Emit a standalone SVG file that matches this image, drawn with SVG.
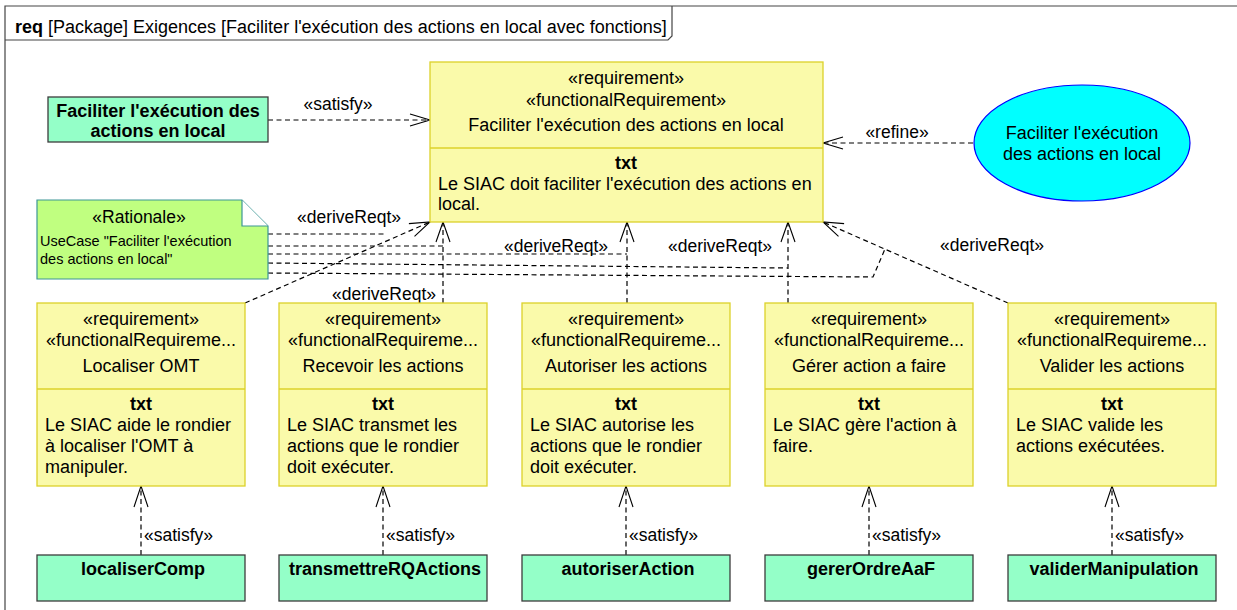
<svg xmlns="http://www.w3.org/2000/svg" width="1237" height="610" viewBox="0 0 1237 610">
<style>
text{font-family:"Liberation Sans",Arial,sans-serif;fill:#000}
.t{font-size:18px}
.l{font-size:17.5px}
.c{text-anchor:middle}
.b{font-weight:bold}
.req{fill:#FAFAAA;stroke:#DCD22A;stroke-width:1.3}
.blk{fill:#94FFC8;stroke:#3C3C3C;stroke-width:1.3}
.dash{fill:none;stroke:#000;stroke-width:1.2;stroke-dasharray:5,3.5}
.head{fill:none;stroke:#000;stroke-width:1.1}
</style>
<rect width="1237" height="610" fill="#fff"/>
<g id="frame">
<path d="M5,610 V6 H1237" fill="none" stroke="#444" stroke-width="1.2"/>
<path d="M5,40 H668 L672,36 V6" fill="none" stroke="#444" stroke-width="1.2"/>
<text x="15" y="33" style="font-size:18px"><tspan font-weight="bold">req</tspan> [Package] Exigences [Faciliter l'exécution des actions en local avec fonctions]</text>
</g>
<g id="connectors">
<path class="dash" d="M268,120 H429"/>
<path class="head" d="M410,114 L430,120 L410,126"/>
<text class="l c" x="338" y="110">«satisfy»</text>
<path class="dash" d="M973,143 H824"/>
<path class="head" d="M843,137 L823,143 L843,149"/>
<text class="l c" x="897" y="138">«refine»</text>
<path class="dash" d="M245,303 L430,222"/>
<path class="head" d="M414.5,236.4 L430,222 L408.9,223.6"/>
<text class="l c" x="349" y="223">«deriveReqt»</text>
<path class="dash" d="M443,303 V223"/>
<path class="head" d="M436,242 L443,222 L450,242"/>
<text class="l c" x="384" y="300">«deriveReqt»</text>
<path class="dash" d="M627,303 V223"/>
<path class="head" d="M620,242 L627,222 L634,242"/>
<text class="l c" x="556" y="252">«deriveReqt»</text>
<path class="dash" d="M788,303 V223"/>
<path class="head" d="M781,242 L788,222 L795,242"/>
<text class="l c" x="720" y="252">«deriveReqt»</text>
<path class="dash" d="M1008,303 L823,222"/>
<path class="head" d="M838.5,236.4 L823,222 L844.1,223.6"/>
<text class="l c" x="992" y="251">«deriveReqt»</text>
<path class="dash" d="M268,234 H386"/>
<path class="dash" d="M268,246 H443"/>
<path class="dash" d="M268,254 H627"/>
<path class="dash" d="M268,263 L788,268"/>
<path class="dash" d="M268,273 L873,277 L885,249"/>
<path class="dash" d="M141,555 V487"/>
<path class="head" d="M134,507 L141,486 L148,507"/>
<text class="l" x="144" y="541">«satisfy»</text>
<path class="dash" d="M383,555 V487"/>
<path class="head" d="M376,507 L383,486 L390,507"/>
<text class="l" x="386" y="541">«satisfy»</text>
<path class="dash" d="M626,555 V487"/>
<path class="head" d="M619,507 L626,486 L633,507"/>
<text class="l" x="629" y="541">«satisfy»</text>
<path class="dash" d="M869,555 V487"/>
<path class="head" d="M862,507 L869,486 L876,507"/>
<text class="l" x="872" y="541">«satisfy»</text>
<path class="dash" d="M1112,555 V487"/>
<path class="head" d="M1105,507 L1112,486 L1119,507"/>
<text class="l" x="1115" y="541">«satisfy»</text>
</g>
<g id="main-req">
<rect class="req" x="430" y="62" width="393" height="160"/>
<line x1="430" y1="148" x2="823" y2="148" stroke="#DCD22A" stroke-width="1.3"/>
<text class="t c" x="626" y="84">«requirement»</text>
<text class="t c" x="626" y="106">«functionalRequirement»</text>
<text class="t c" x="626" y="131">Faciliter l'exécution des actions en local</text>
<text class="t c b" x="626" y="169">txt</text>
<text class="t" x="438" y="190">Le SIAC doit faciliter l'exécution des actions en</text>
<text class="t" x="438" y="210">local.</text>
</g>
<g id="block-faciliter">
<rect class="blk" x="48" y="97" width="220" height="45"/>
<text class="t c b" x="158" y="117">Faciliter l'exécution des</text>
<text class="t c b" x="158" y="137">actions en local</text>
</g>
<g id="usecase">
<ellipse cx="1082" cy="143" rx="108" ry="58" fill="#00FFFF" stroke="#0000FF" stroke-width="1.2"/>
<text class="t c" x="1082" y="139">Faciliter l'exécution</text>
<text class="t c" x="1082" y="160">des actions en local</text>
</g>
<g id="rationale">
<path d="M37,200 H242 L268,226 V279 H37 Z" fill="#C0FF80" stroke="#3C9696" stroke-width="1.2"/>
<path d="M242,200 V226 H268" fill="#fff" stroke="#3C9696" stroke-width="1.2"/>
<text class="c" x="139" y="223" style="font-size:17.5px">«Rationale»</text>
<text x="40" y="246" style="font-size:14.5px">UseCase "Faciliter l'exécution</text>
<text x="40" y="264" style="font-size:14.5px">des actions en local"</text>
</g>
<g id="req-localiser">
<rect class="req" x="37" y="303" width="208" height="183"/>
<line x1="37" y1="389" x2="245" y2="389" stroke="#DCD22A" stroke-width="1.3"/>
<text class="t c" x="141" y="325">«requirement»</text>
<text class="t c" x="141" y="346">«functionalRequireme...</text>
<text class="t c" x="141" y="372">Localiser OMT</text>
<text class="t c b" x="141" y="410">txt</text>
<text class="t" x="45" y="431">Le SIAC aide le rondier</text>
<text class="t" x="45" y="452">à localiser l'OMT à</text>
<text class="t" x="45" y="473">manipuler.</text>
</g>
<g id="req-recevoir">
<rect class="req" x="279" y="303" width="208" height="183"/>
<line x1="279" y1="389" x2="487" y2="389" stroke="#DCD22A" stroke-width="1.3"/>
<text class="t c" x="383" y="325">«requirement»</text>
<text class="t c" x="383" y="346">«functionalRequireme...</text>
<text class="t c" x="383" y="372">Recevoir les actions</text>
<text class="t c b" x="383" y="410">txt</text>
<text class="t" x="287" y="431">Le SIAC transmet les</text>
<text class="t" x="287" y="452">actions que le rondier</text>
<text class="t" x="287" y="473">doit exécuter.</text>
</g>
<g id="req-autoriser">
<rect class="req" x="522" y="303" width="208" height="183"/>
<line x1="522" y1="389" x2="730" y2="389" stroke="#DCD22A" stroke-width="1.3"/>
<text class="t c" x="626" y="325">«requirement»</text>
<text class="t c" x="626" y="346">«functionalRequireme...</text>
<text class="t c" x="626" y="372">Autoriser les actions</text>
<text class="t c b" x="626" y="410">txt</text>
<text class="t" x="530" y="431">Le SIAC autorise les</text>
<text class="t" x="530" y="452">actions que le rondier</text>
<text class="t" x="530" y="473">doit exécuter.</text>
</g>
<g id="req-gerer">
<rect class="req" x="765" y="303" width="208" height="183"/>
<line x1="765" y1="389" x2="973" y2="389" stroke="#DCD22A" stroke-width="1.3"/>
<text class="t c" x="869" y="325">«requirement»</text>
<text class="t c" x="869" y="346">«functionalRequireme...</text>
<text class="t c" x="869" y="372">Gérer action a faire</text>
<text class="t c b" x="869" y="410">txt</text>
<text class="t" x="773" y="431">Le SIAC gère l'action à</text>
<text class="t" x="773" y="452">faire.</text>
</g>
<g id="req-valider">
<rect class="req" x="1008" y="303" width="208" height="183"/>
<line x1="1008" y1="389" x2="1216" y2="389" stroke="#DCD22A" stroke-width="1.3"/>
<text class="t c" x="1112" y="325">«requirement»</text>
<text class="t c" x="1112" y="346">«functionalRequireme...</text>
<text class="t c" x="1112" y="372">Valider les actions</text>
<text class="t c b" x="1112" y="410">txt</text>
<text class="t" x="1016" y="431">Le SIAC valide les</text>
<text class="t" x="1016" y="452">actions exécutées.</text>
</g>
<g id="blk-localiserComp">
<rect class="blk" x="37" y="555" width="208" height="46"/>
<text class="t c b" x="143" y="575">localiserComp</text>
</g>
<g id="blk-transmettre">
<rect class="blk" x="279" y="555" width="208" height="46"/>
<text class="t c b" x="385" y="575">transmettreRQActions</text>
</g>
<g id="blk-autoriser">
<rect class="blk" x="522" y="555" width="208" height="46"/>
<text class="t c b" x="628" y="575">autoriserAction</text>
</g>
<g id="blk-gerer">
<rect class="blk" x="765" y="555" width="208" height="46"/>
<text class="t c b" x="871" y="575">gererOrdreAaF</text>
</g>
<g id="blk-valider">
<rect class="blk" x="1008" y="555" width="208" height="46"/>
<text class="t c b" x="1114" y="575">validerManipulation</text>
</g>
</svg>
